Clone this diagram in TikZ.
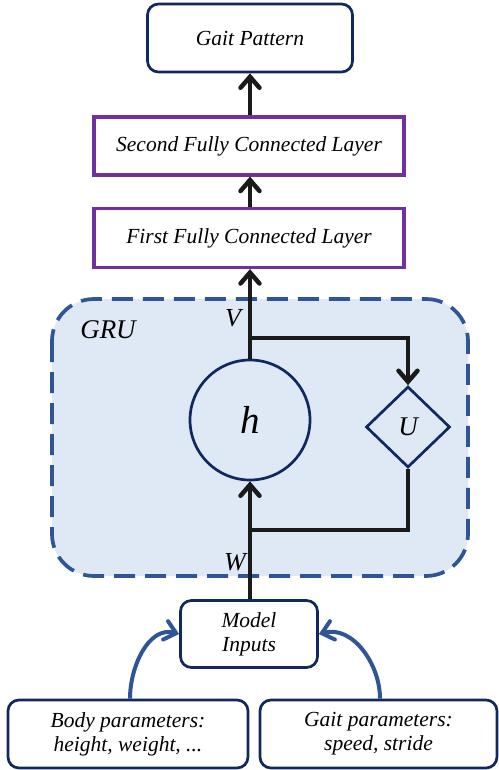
\documentclass[tikz,border=0pt]{standalone}
\usepackage{fontspec}
\setmainfont{Liberation Serif}
\usetikzlibrary{arrows.meta,shapes.geometric}
\definecolor{navy}{RGB}{16,40,94}
\definecolor{fcpurple}{RGB}{112,48,160}
\definecolor{grublue}{RGB}{47,85,151}
\definecolor{grufill}{RGB}{222,233,245}
\definecolor{ink}{RGB}{26,26,26}
\tikzset{
  txt/.style={font=\fontsize{21.5}{25}\selectfont\itshape, align=center},
  roundbox/.style={txt, draw=navy, line width=2.7pt, rounded corners=11pt, fill=white},
  fcbox/.style={txt, draw=fcpurple, line width=3.2pt, fill=white},
  flow/.style={draw=ink, line width=4.5pt, -{Straight Barb[length=11pt,width=19pt,line cap=round]}},
  plain/.style={draw=ink, line width=4.5pt},
  feed/.style={draw=grublue, line width=4pt, -{Straight Barb[length=11pt,width=19pt,line cap=round]}},
}
\begin{document}
\begin{tikzpicture}[x=1pt,y=-1pt]
\useasboundingbox (0,0) rectangle (498,770);

% GRU container
\draw[draw=grublue, fill=grufill, line width=3.7pt, dash pattern=on 21pt off 10pt,
      rounded corners=42pt] (52,299) rectangle (468,576);
\node[font=\fontsize{27}{30}\selectfont\itshape] (grulabel) at (108,330) {GRU};

% top stack
\node[roundbox, minimum width=205pt, minimum height=68pt] (gait) at (250,38) {Gait Pattern};
\node[fcbox, minimum width=310pt, minimum height=58pt] (fc2) at (249,146) {Second Fully Connected Layer};
\node[fcbox, minimum width=310pt, minimum height=59pt] (fc1) at (249,238) {First Fully Connected Layer};

% recurrent cell
\node[circle, draw=navy, line width=2.7pt, minimum size=120pt, inner sep=0pt,
      font=\fontsize{39}{40}\selectfont\itshape] (h) at (250,420) {h};
\node[diamond, draw=navy, line width=2.7pt, minimum width=84pt, minimum height=81pt,
      inner sep=0pt, font=\fontsize{27}{30}\selectfont\itshape] (U) at (408,427) {U};
\node[font=\fontsize{26}{30}\selectfont\itshape] (vlabel) at (233,318) {V};
\node[font=\fontsize{26}{30}\selectfont\itshape] (wlabel) at (235,562) {W};

% inputs
\node[roundbox, minimum width=137pt, minimum height=67pt] (mi) at (249,634) {Model\\[-1pt]Inputs};
\node[roundbox, minimum width=240pt, minimum height=68pt] (body) at (128,734) {Body parameters:\\[-1pt]height, weight, ...};
\node[roundbox, minimum width=237pt, minimum height=68pt] (gaitp) at (378.5,734) {Gait parameters:\\[-1pt]speed, stride};

\coordinate (split) at (250,338);
\coordinate (merge) at (250,530);

% connectors
\draw[flow] (fc2.north -| gait.south) -- (gait.south);
\draw[flow] (fc1.north -| gait.south) -- (fc2.south -| gait.south);
\draw[flow] (h.north) -- (fc1.south -| h.north);
\draw[flow] (split) -| (U.north);
\draw[plain] (U.south) |- (merge);
\draw[flow] (mi.north -| h.south) -- (h.south);

\draw[feed] ([xshift=2pt]body.north) to[out=90, in=165] (mi.west);
\draw[feed] ([xshift=1.5pt]gaitp.north) to[out=90, in=15] (mi.east);
\end{tikzpicture}
\end{document}
